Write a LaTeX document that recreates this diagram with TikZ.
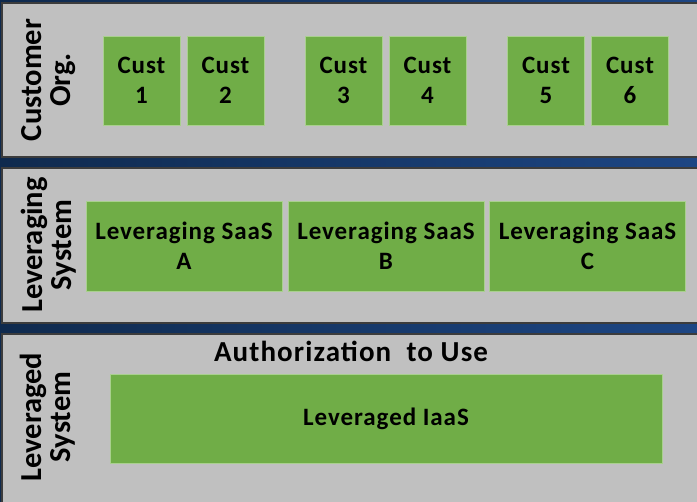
\documentclass[tikz,border=0pt]{standalone}
\usepackage{fontspec}
\setmainfont{Carlito}
\newfontfamily\spacedfont[LetterSpace=3.8]{Carlito}
\usetikzlibrary{shadings}
\definecolor{navyL}{HTML}{0F2A4E}
\definecolor{navyR}{HTML}{1D4684}
\definecolor{panelgray}{HTML}{C0C0C0}
\definecolor{paneledge}{HTML}{3C3C3C}
\definecolor{boxgreen}{HTML}{70AD47}
\definecolor{boxedge}{HTML}{A9D08E}
\tikzset{
  panel/.style={fill=panelgray, draw=paneledge, line width=1.3pt},
  greenbox/.style={fill=boxgreen, draw=boxedge, line width=0.6pt, inner sep=0pt,
    align=center, text=black},
  custbox/.style={greenbox, minimum width=77, minimum height=89,
    font=\spacedfont\fontsize{25}{30}\selectfont\bfseries},
  saasbox/.style={greenbox, minimum width=196, minimum height=90,
    font=\spacedfont\fontsize{25}{30}\selectfont\bfseries},
  sidelabel/.style={rotate=90, align=center, inner sep=0pt,
    font=\fontsize{30.5}{29}\selectfont\bfseries},
}
\begin{document}
\begin{tikzpicture}[x=1pt, y=-1pt]
  \useasboundingbox (0,0) rectangle (697,502);
  % backdrop
  \shade[left color=navyL, right color=navyR] (0,0) rectangle (697,502);
  % three horizontal bands
  \draw[panel] (2,3) rectangle (702,157);
  \draw[panel] (2,168) rectangle (702,323);
  \draw[panel] (2,334) rectangle (702,508);

  % customer organisations
  \node[sidelabel] (lblcust) at (49,80) {Customer\\Org.};
  \node[custbox] (c1) at (141.5,80.5) {Cust\\1};
  \node[custbox] (c2) at (225.5,80.5) {Cust\\2};
  \node[custbox] (c3) at (343.5,80.5) {Cust\\3};
  \node[custbox] (c4) at (427.5,80.5) {Cust\\4};
  \node[custbox] (c5) at (546,80.5) {Cust\\5};
  \node[custbox] (c6) at (630,80.5) {Cust\\6};

  % leveraging SaaS systems
  \node[sidelabel] (lblsaas) at (49,245) {Leveraging\\System};
  \node[saasbox] (sa) at (184,246) {Leveraging SaaS\\A};
  \node[saasbox] (sb) at (386,246) {Leveraging SaaS\\B};
  \node[saasbox] (sc) at (587.5,246) {Leveraging SaaS\\C};

  % leveraged IaaS
  \node[sidelabel] (lbliaas) at (48,417) {Leveraged\\System};
  \node[anchor=base, inner sep=0pt, font=\spacedfont\fontsize{29}{34}\selectfont\bfseries]
    (auth) at (351,362) {Authorization\ \ to Use};
  \node[greenbox, minimum width=552, minimum height=89,
    font=\spacedfont\fontsize{25}{30}\selectfont\bfseries] (iaas) at (386,418.5) {Leveraged IaaS};
\end{tikzpicture}
\end{document}
